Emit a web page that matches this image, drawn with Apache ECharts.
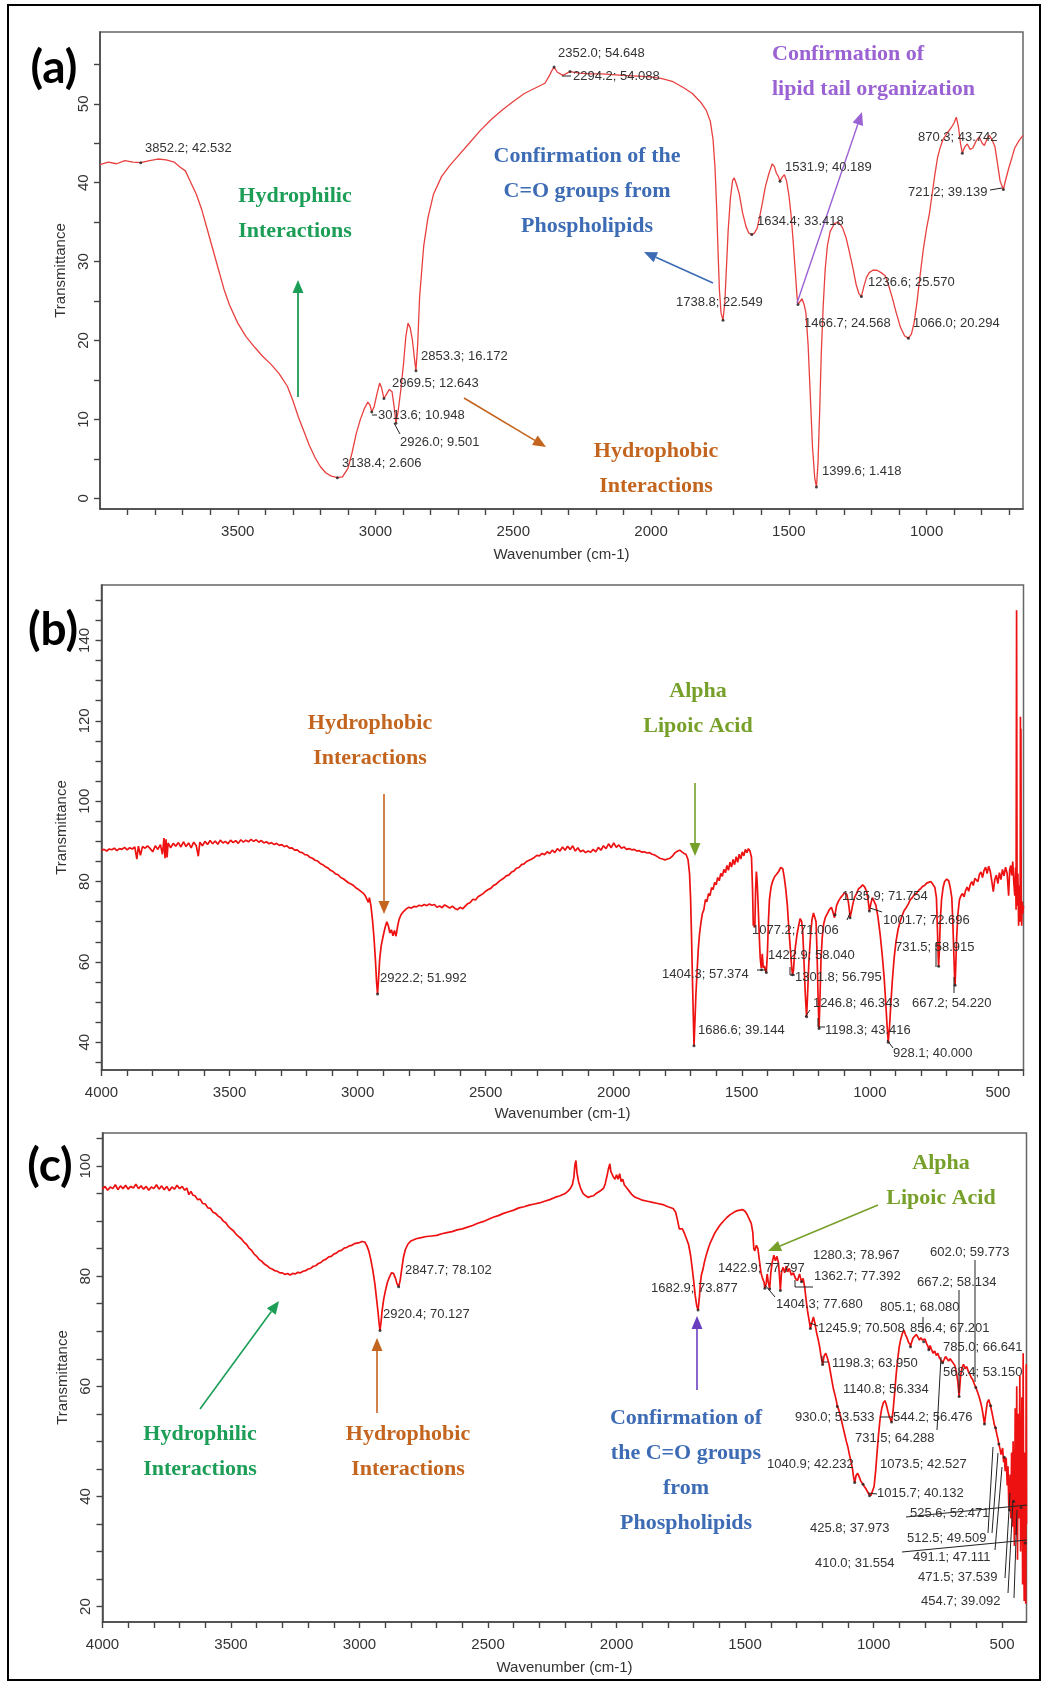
<!DOCTYPE html>
<html><head><meta charset="utf-8">
<script src="https://cdn.jsdelivr.net/npm/echarts@6/dist/echarts.min.js"></script>
<style>html,body{margin:0;padding:0;background:#fff;}#chart{width:1046px;height:1685px;}</style>
</head><body><div id="chart"></div>
<script>
// ---------------- DATA ----------------
// Panel (a): [wavenumber, transmittance]
const spectrumA = [
[4000,42.3],[3970,42.6],[3940,42.4],[3910,42.8],[3880,42.6],[3852.2,42.532],[3820,42.8],[3790,43.0],[3760,42.9],[3730,42.6],[3710,42.0],[3690,41.5],[3670,40.0],[3650,38.5],[3630,36.5],[3610,34.0],[3590,31.5],[3570,29.0],[3550,26.5],[3530,24.5],[3500,22.2],[3470,20.5],[3440,19.2],[3410,18.0],[3380,17.0],[3350,15.8],[3320,14.2],[3300,12.4],[3280,10.3],[3260,8.5],[3240,6.7],[3220,5.2],[3200,4.0],[3180,3.2],[3160,2.8],[3138.4,2.606],[3120,2.7],[3100,3.8],[3085,5.8],[3070,8.2],[3055,10.0],[3040,11.4],[3028,12.2],[3020,11.8],[3013.6,10.948],[3005,11.6],[2995,13.2],[2985,14.6],[2978,14.0],[2969.5,12.643],[2960,13.2],[2950,13.8],[2940,13.5],[2932,11.5],[2926.0,9.501],[2918,11.0],[2908,13.8],[2898,17.2],[2890,20.5],[2882,22.2],[2874,21.6],[2866,20.0],[2858,17.5],[2853.3,16.172],[2847,19.5],[2840,25.5],[2832,29.0],[2825,32.0],[2810,35.5],[2790,38.5],[2760,40.8],[2730,42.2],[2700,43.4],[2660,45.0],[2620,46.6],[2580,48.0],[2540,49.2],[2500,50.3],[2460,51.3],[2420,52.0],[2385,52.6],[2370,53.5],[2360,54.2],[2352.0,54.648],[2340,54.0],[2320,53.6],[2294.2,54.088],[2260,53.9],[2220,53.8],[2180,53.8],[2140,53.7],[2100,53.6],[2050,53.5],[2000,53.4],[1960,53.2],[1920,52.8],[1880,52.0],[1850,51.3],[1820,50.2],[1800,49.2],[1785,47.8],[1775,45.5],[1768,42.0],[1762,37.0],[1757,31.5],[1752,26.5],[1746,23.5],[1738.8,22.549],[1732,25.0],[1726,29.5],[1720,34.0],[1712,38.0],[1704,40.3],[1698,40.6],[1690,39.8],[1680,38.6],[1668,36.2],[1655,34.4],[1645,33.6],[1634.4,33.418],[1625,33.6],[1615,34.2],[1605,35.8],[1595,37.6],[1585,39.5],[1572,41.2],[1560,42.4],[1552,42.0],[1545,41.2],[1538,40.8],[1531.9,40.189],[1524,40.7],[1516,41.0],[1508,40.2],[1500,38.5],[1492,36.0],[1484,32.5],[1476,28.5],[1470,25.5],[1466.7,24.568],[1460,24.9],[1452,25.3],[1444,24.5],[1438,23.5],[1430,19.5],[1422,13.0],[1414,6.5],[1406,2.6],[1399.6,1.418],[1394,4.5],[1388,11.0],[1382,18.5],[1375,24.5],[1368,29.0],[1360,32.0],[1350,33.8],[1335,34.8],[1320,35.0],[1305,34.3],[1292,33.0],[1280,31.2],[1268,29.3],[1255,27.0],[1245,25.9],[1236.6,25.570],[1228,26.8],[1218,28.0],[1208,28.6],[1195,28.9],[1180,28.9],[1165,28.6],[1150,28.2],[1138,27.0],[1125,25.5],[1110,23.5],[1095,21.7],[1080,20.6],[1066.0,20.294],[1055,20.8],[1045,22.3],[1035,24.8],[1025,27.8],[1012,31.5],[1000,34.2],[990,36.0],[980,38.5],[970,41.0],[960,43.2],[950,44.5],[940,45.5],[925,46.3],[910,47.0],[900,47.6],[892,48.3],[884,47.0],[877,45.0],[870.3,43.742],[862,44.5],[852,44.9],[842,44.2],[832,44.4],[820,45.3],[809,45.8],[798,45.0],[790,44.7],[780,45.6],[772,46.0],[762,45.4],[752,44.6],[742,42.3],[733,40.2],[721.2,39.139],[712,40.5],[702,41.8],[690,43.2],[680,44.4],[665,45.3],[650,46.0]
];
const peaksA = [[3852.2,42.532],[3138.4,2.606],[3013.6,10.948],[2969.5,12.643],[2926.0,9.501],[2853.3,16.172],[2352.0,54.648],[2294.2,54.088],[1738.8,22.549],[1634.4,33.418],[1531.9,40.189],[1466.7,24.568],[1399.6,1.418],[1236.6,25.570],[1066.0,20.294],[870.3,43.742],[721.2,39.139]];

// Panel (b)
const spectrumB = [
[4000,87.8],[3990,88.0],[3980,87.6],[3970,88.1],[3960,87.9],[3950,88.3],[3940,87.7],[3930,88.2],[3920,88.0],[3910,88.5],[3900,87.9],[3890,88.4],[3880,88.1],[3870,88.6],[3862,85.6],[3856,88.8],[3848,86.5],[3840,88.7],[3830,88.3],[3820,88.9],[3810,88.2],[3800,87.4],[3790,88.9],[3780,88.0],[3770,89.2],[3762,86.8],[3756,90.8],[3752,85.8],[3748,90.5],[3744,86.0],[3740,89.6],[3730,88.4],[3720,89.5],[3710,88.8],[3700,89.7],[3690,88.6],[3680,89.9],[3670,88.7],[3660,89.6],[3650,88.4],[3640,89.8],[3630,88.9],[3622,86.3],[3616,89.8],[3606,88.9],[3596,90.0],[3586,89.2],[3576,90.2],[3566,89.4],[3556,90.1],[3546,89.3],[3536,90.3],[3526,89.6],[3516,90.0],[3506,89.4],[3496,90.3],[3486,89.7],[3476,90.2],[3466,89.5],[3456,90.4],[3446,89.8],[3436,90.3],[3426,89.9],[3416,90.5],[3406,90.0],[3396,90.4],[3386,89.8],[3376,90.2],[3366,89.6],[3356,89.9],[3346,89.4],[3336,89.7],[3326,89.2],[3316,89.5],[3306,89.0],[3296,89.2],[3286,88.7],[3276,88.9],[3266,88.3],[3256,88.4],[3246,87.8],[3236,87.9],[3226,87.3],[3216,87.2],[3206,86.7],[3196,86.6],[3186,86.0],[3176,85.8],[3166,85.3],[3156,85.1],[3146,84.5],[3136,84.2],[3126,83.7],[3116,83.4],[3106,82.8],[3096,82.5],[3086,81.9],[3076,81.7],[3066,81.0],[3056,80.7],[3046,80.2],[3036,79.7],[3026,79.4],[3016,79.0],[3006,78.4],[2996,78.0],[2986,77.5],[2976,77.0],[2968,76.2],[2962,76.6],[2958,74.8],[2954,76.0],[2948,74.0],[2942,70.5],[2936,66.0],[2930,60.0],[2926,55.0],[2922.2,51.992],[2918,56.0],[2914,60.5],[2908,64.0],[2900,66.5],[2893,68.5],[2886,70.0],[2880,69.0],[2874,67.2],[2868,68.0],[2862,66.5],[2856,67.8],[2850,66.4],[2844,68.8],[2838,70.6],[2830,71.8],[2820,72.6],[2810,73.2],[2800,73.6],[2790,73.4],[2780,73.8],[2770,73.7],[2760,74.1],[2750,73.9],[2740,74.3],[2730,74.0],[2720,74.4],[2710,74.1],[2700,74.3],[2690,73.6],[2680,73.9],[2670,73.5],[2660,74.2],[2650,73.8],[2640,73.4],[2630,73.9],[2620,73.3],[2610,73.0],[2600,73.6],[2590,73.2],[2580,73.9],[2570,74.5],[2560,74.8],[2550,75.6],[2540,75.4],[2530,76.2],[2520,76.6],[2510,77.0],[2500,77.6],[2490,78.0],[2480,78.3],[2470,79.0],[2460,79.3],[2450,79.9],[2440,80.4],[2430,80.8],[2420,81.4],[2410,81.6],[2400,82.3],[2390,82.6],[2380,83.3],[2370,83.5],[2360,84.2],[2350,84.4],[2340,85.0],[2330,85.3],[2320,85.6],[2310,86.0],[2300,86.5],[2290,86.4],[2280,87.0],[2270,86.7],[2260,87.4],[2250,87.0],[2240,87.8],[2230,87.2],[2220,88.2],[2210,87.6],[2200,88.6],[2190,87.8],[2180,88.8],[2170,88.0],[2160,88.9],[2150,87.6],[2140,88.4],[2130,87.4],[2120,87.8],[2110,87.2],[2100,87.6],[2090,87.3],[2080,88.0],[2070,87.4],[2060,88.5],[2050,87.8],[2040,88.9],[2030,88.2],[2020,89.4],[2010,88.4],[2000,89.6],[1990,88.5],[1980,89.1],[1970,88.3],[1960,88.6],[1950,88.0],[1940,88.2],[1930,87.9],[1920,88.0],[1910,87.6],[1900,87.7],[1890,87.3],[1880,87.4],[1870,87.1],[1860,87.2],[1850,86.8],[1840,86.6],[1830,86.2],[1820,85.8],[1810,85.6],[1800,85.4],[1790,85.6],[1780,85.8],[1770,86.4],[1760,87.2],[1750,87.6],[1742,87.8],[1734,87.4],[1726,87.0],[1718,86.8],[1710,85.5],[1704,82.0],[1700,76.0],[1696,66.0],[1692,54.0],[1688,43.0],[1686.6,39.144],[1683,45.0],[1679,52.0],[1675,57.0],[1670,63.0],[1665,67.0],[1660,69.5],[1654,72.0],[1648,73.0],[1642,75.5],[1636,75.0],[1630,77.0],[1624,76.5],[1618,78.5],[1612,78.0],[1606,79.8],[1600,79.2],[1594,81.0],[1588,80.2],[1582,82.0],[1576,81.3],[1570,83.0],[1564,82.2],[1558,84.0],[1552,82.8],[1546,84.8],[1540,83.6],[1534,85.5],[1528,84.2],[1522,86.2],[1516,84.8],[1510,86.8],[1504,85.6],[1498,87.4],[1492,86.4],[1486,88.0],[1480,87.2],[1474,88.2],[1468,87.6],[1462,86.0],[1458,78.0],[1455,69.0],[1452,70.0],[1449,68.5],[1446,78.0],[1443,82.5],[1440,80.0],[1436,74.0],[1432,67.0],[1428,61.0],[1424,58.5],[1420,62.0],[1416,58.5],[1412,59.0],[1408,58.0],[1404.3,57.374],[1400,62.0],[1396,70.0],[1392,75.5],[1386,78.5],[1380,80.0],[1372,81.2],[1364,81.8],[1356,82.5],[1348,83.5],[1340,83.2],[1334,81.0],[1328,78.0],[1322,74.0],[1316,68.0],[1310,63.0],[1305,58.5],[1301.8,56.795],[1298,58.0],[1294,62.0],[1290,64.0],[1284,67.0],[1278,69.0],[1272,70.8],[1266,70.0],[1262,67.5],[1257,60.0],[1252,52.0],[1248,47.5],[1246.8,46.343],[1243,52.0],[1238,60.0],[1232,66.0],[1226,70.5],[1220,72.2],[1214,72.6],[1210,70.0],[1206,62.0],[1202,51.0],[1198.3,43.416],[1195,50.0],[1191,60.0],[1186,66.0],[1180,69.5],[1174,71.0],[1166,72.0],[1158,73.0],[1150,73.6],[1144,72.4],[1138,71.0],[1135.9,71.754],[1130,74.0],[1122,75.2],[1114,76.0],[1106,76.6],[1098,77.2],[1090,76.8],[1084,75.0],[1080,73.0],[1077.2,71.006],[1072,72.5],[1066,74.5],[1060,76.0],[1052,77.0],[1044,78.2],[1036,78.6],[1028,79.2],[1020,78.6],[1012,77.5],[1006,75.0],[1001.7,72.696],[996,74.5],[990,76.0],[984,75.2],[976,74.0],[968,71.0],[960,67.0],[952,62.0],[944,56.0],[938,50.0],[933,44.5],[928.1,40.0],[923,44.0],[918,49.5],[912,55.5],[905,61.0],[898,65.0],[890,68.0],[882,70.0],[874,71.5],[866,72.8],[858,73.5],[850,74.4],[842,75.5],[834,76.0],[826,76.8],[818,77.0],[810,77.8],[802,78.2],[794,78.8],[786,79.0],[778,79.6],[770,79.8],[762,80.0],[754,79.3],[746,78.5],[740,76.0],[736,68.0],[733,61.0],[731.5,58.915],[729,62.0],[725,70.0],[720,75.5],[714,78.5],[708,80.0],[700,80.6],[692,80.2],[686,78.5],[680,76.0],[676,70.0],[672,62.0],[669,56.0],[667.2,54.22],[665,58.0],[661,66.0],[656,72.0],[650,75.5],[644,76.5],[638,77.0],[632,76.2],[626,77.8],[620,78.6],[614,77.6],[608,79.2],[602,80.0],[596,79.0],[590,80.8],[584,81.2],[578,80.0],[572,81.8],[566,82.4],[560,81.0],[554,82.8],[548,83.6],[542,82.0],[536,83.8],[530,82.6],[524,80.2],[518,77.5],[512,80.5],[506,81.6],[500,79.5],[494,82.2],[488,80.5],[482,83.0],[476,81.4],[470,83.6],[464,82.0],[458,76.5],[454,82.8],[450,84.0],[446,81.5],[442,85.0],[438,80.0],[434,76.5],[431,83.5],[429,73.0],[427,147.5],[425,74.0],[422,82.0],[419,69.0],[416,79.0],[413,70.0],[412,121.0],[411,72.0],[410,118.0],[409,76.0],[407,69.0],[405,75.0],[403,72.0],[400,74.0]
];
const peaksB = [[2922.2,51.992],[1686.6,39.144],[1404.3,57.374],[1077.2,71.006],[1422.9,58.040],[1301.8,56.795],[1246.8,46.343],[1198.3,43.416],[928.1,40.000],[1135.9,71.754],[1001.7,72.696],[731.5,58.915],[667.2,54.220]];

// Panel (c)
const spectrumC = [
[4000,95.8],[3990,96.3],[3980,95.6],[3970,96.2],[3960,95.9],[3950,96.6],[3940,95.7],[3930,96.4],[3920,95.9],[3910,96.5],[3900,95.8],[3890,96.3],[3880,96.0],[3870,96.7],[3860,95.9],[3850,96.4],[3840,95.8],[3830,96.3],[3820,95.6],[3810,96.2],[3800,95.9],[3790,96.6],[3780,95.8],[3770,96.4],[3760,95.7],[3750,96.3],[3740,95.5],[3730,96.2],[3720,95.8],[3710,96.5],[3700,95.9],[3690,96.3],[3680,95.6],[3672,96.0],[3664,94.8],[3656,95.4],[3648,94.7],[3640,94.6],[3630,93.9],[3620,94.0],[3610,93.2],[3600,93.1],[3590,92.4],[3580,92.3],[3570,91.6],[3560,91.4],[3550,90.9],[3540,90.6],[3530,90.0],[3520,89.7],[3510,89.0],[3500,88.6],[3490,88.2],[3480,87.6],[3470,87.2],[3460,86.8],[3450,86.2],[3440,85.8],[3430,85.1],[3420,84.7],[3410,84.0],[3400,83.6],[3390,83.0],[3380,82.7],[3370,82.2],[3360,81.9],[3350,81.5],[3340,81.3],[3330,81.0],[3320,80.9],[3310,80.6],[3300,80.6],[3290,80.3],[3280,80.5],[3270,80.2],[3260,80.5],[3250,80.4],[3240,80.7],[3230,80.6],[3220,80.9],[3210,81.0],[3200,81.3],[3190,81.4],[3180,81.8],[3170,81.9],[3160,82.3],[3150,82.5],[3140,82.9],[3130,83.1],[3120,83.5],[3110,83.6],[3100,84.0],[3090,84.2],[3080,84.6],[3070,84.7],[3060,85.1],[3050,85.2],[3040,85.5],[3030,85.6],[3020,85.9],[3010,86.0],[3000,86.1],[2990,86.3],[2980,86.2],[2972,85.6],[2964,84.6],[2956,83.0],[2948,81.0],[2940,78.5],[2934,76.0],[2928,73.5],[2924,71.5],[2920.4,70.127],[2916,71.8],[2912,73.8],[2906,75.8],[2900,77.2],[2892,78.8],[2884,79.8],[2876,80.6],[2868,80.5],[2860,79.6],[2854,78.6],[2847.7,78.102],[2842,79.2],[2836,81.2],[2830,83.2],[2822,84.8],[2812,85.8],[2800,86.4],[2780,86.8],[2760,87.0],[2740,87.2],[2720,87.3],[2700,87.4],[2680,87.7],[2660,87.9],[2640,88.1],[2620,88.4],[2600,88.6],[2580,88.9],[2560,89.2],[2540,89.6],[2520,89.9],[2500,90.3],[2480,90.7],[2460,91.0],[2440,91.4],[2420,91.7],[2400,92.0],[2380,92.4],[2360,92.6],[2340,92.9],[2320,93.1],[2300,93.3],[2280,93.6],[2260,93.9],[2240,94.3],[2220,94.6],[2200,95.0],[2190,95.4],[2180,95.9],[2172,96.6],[2166,98.0],[2162,100.2],[2158,101.0],[2154,98.8],[2148,97.2],[2140,96.0],[2130,95.0],[2120,94.6],[2110,94.3],[2100,94.5],[2090,94.6],[2080,95.0],[2070,95.3],[2060,95.6],[2050,96.0],[2044,96.8],[2038,98.0],[2032,99.4],[2026,100.4],[2022,99.0],[2018,98.6],[2012,98.0],[2006,97.6],[2000,98.4],[1994,97.6],[1988,98.6],[1982,97.2],[1976,97.6],[1970,96.6],[1960,96.0],[1950,95.4],[1940,94.8],[1930,94.4],[1920,94.2],[1910,94.0],[1900,93.8],[1880,93.6],[1860,93.4],[1840,93.2],[1820,93.0],[1800,92.6],[1780,92.3],[1770,91.6],[1762,90.0],[1756,88.6],[1750,88.3],[1744,88.6],[1736,87.8],[1728,86.8],[1720,85.8],[1712,83.8],[1706,81.6],[1700,79.2],[1694,76.5],[1688,74.6],[1682.9,73.877],[1678,76.0],[1674,78.6],[1670,80.2],[1664,81.2],[1658,82.6],[1650,84.0],[1642,85.2],[1634,86.2],[1626,87.0],[1618,87.8],[1610,88.4],[1600,89.1],[1590,89.7],[1580,90.2],[1570,90.7],[1560,91.1],[1550,91.4],[1540,91.7],[1530,91.9],[1520,92.0],[1510,92.1],[1500,91.8],[1492,91.2],[1484,90.4],[1476,89.6],[1470,88.0],[1466,85.0],[1462,84.6],[1456,85.6],[1450,85.0],[1444,82.8],[1438,80.6],[1432,79.6],[1426,78.9],[1422.9,77.797],[1418,78.6],[1414,80.4],[1410,79.0],[1404.3,77.680],[1400,80.5],[1394,82.6],[1388,83.8],[1382,82.8],[1376,83.6],[1370,82.4],[1366,80.0],[1362.7,77.392],[1358,80.8],[1352,81.6],[1346,80.6],[1340,81.8],[1334,80.8],[1328,81.4],[1320,80.2],[1312,80.6],[1304,79.6],[1296,79.2],[1288,80.4],[1280.3,78.967],[1274,79.6],[1268,78.0],[1262,75.5],[1256,73.4],[1250,71.8],[1245.9,70.508],[1240,71.6],[1234,72.6],[1228,71.4],[1222,69.8],[1216,68.6],[1210,67.2],[1204,65.4],[1198.3,63.950],[1192,65.6],[1186,66.0],[1180,65.2],[1174,64.2],[1168,62.6],[1162,61.0],[1156,59.5],[1150,58.4],[1145,57.4],[1140.8,56.334],[1136,55.8],[1130,54.8],[1124,53.6],[1118,52.4],[1112,51.2],[1106,50.0],[1100,49.0],[1094,47.6],[1088,46.4],[1082,45.0],[1078,43.6],[1073.5,42.527],[1068,43.8],[1062,44.2],[1056,43.6],[1050,42.8],[1044,42.6],[1040.9,42.232],[1036,41.8],[1030,41.4],[1024,40.9],[1018,40.4],[1015.7,40.132],[1010,40.2],[1004,40.4],[998,41.8],[992,44.6],[986,48.2],[980,51.6],[974,54.4],[968,56.0],[962,57.0],[956,57.4],[950,56.6],[944,55.4],[938,54.4],[930.0,53.533],[924,55.6],[918,58.8],[912,62.2],[906,65.0],[900,67.2],[894,68.6],[888,69.6],[882,70.2],[876,69.4],[870,68.8],[864,68.0],[858,67.6],[856.4,67.201],[852,68.0],[846,68.8],[840,68.6],[834,69.4],[828,69.0],[822,68.4],[816,68.8],[810,68.4],[805.1,68.08],[800,68.6],[794,67.8],[788,67.2],[785.0,66.641],[780,67.4],[774,66.6],[768,66.0],[762,66.4],[756,65.6],[750,66.0],[744,65.2],[738,64.8],[731.5,64.288],[726,64.8],[720,65.4],[714,65.0],[708,64.6],[702,65.0],[696,64.6],[690,64.8],[684,63.8],[678,62.6],[672,60.8],[667.2,58.134],[662,61.6],[656,63.4],[650,64.0],[644,63.2],[638,63.6],[632,62.8],[626,62.2],[620,61.6],[614,61.2],[608,60.4],[602.0,59.773],[596,59.0],[590,58.2],[584,57.2],[578,56.0],[572,54.2],[568.4,53.15],[564,54.8],[558,57.0],[552,57.6],[547,56.8],[544.2,56.476],[540,55.4],[534,54.0],[530,53.0],[525.6,52.471],[520,51.2],[516,50.4],[512.5,49.509],[508,48.6],[504,47.6],[498,48.8],[494,46.2],[491.1,47.111],[488,44.6],[484,47.0],[480,42.0],[477,45.5],[474,38.5],[471.5,37.539],[469,44.0],[466,36.0],[463,48.0],[460,34.5],[457,50.0],[454.7,39.092],[452,31.0],[449,56.0],[446,33.0],[443,60.0],[440,28.5],[437,55.0],[434,36.0],[431,62.0],[428,30.0],[425.8,37.973],[423,58.0],[420,24.0],[418,66.0],[416,35.0],[414,21.0],[412,48.0],[410.0,31.554],[408,20.5],[406,64.0],[405,35.0]
];
const peaksC = [[2847.7,78.102],[2920.4,70.127],[1682.9,73.877],[1422.9,77.797],[1280.3,78.967],[1362.7,77.392],[1404.3,77.680],[1245.9,70.508],[1198.3,63.950],[1140.8,56.334],[930.0,53.533],[544.2,56.476],[731.5,64.288],[1040.9,42.232],[1073.5,42.527],[1015.7,40.132],[525.6,52.471],[425.8,37.973],[512.5,49.509],[491.1,47.111],[410.0,31.554],[471.5,37.539],[454.7,39.092],[602.0,59.773],[667.2,58.134],[805.1,68.080],[856.4,67.201],[785.0,66.641],[568.4,53.150]];

// Tick labels / tick marks
const xLabelsA = [1000,1500,2000,2500,3000,3500];
const xLabelsBC = [500,1000,1500,2000,2500,3000,3500,4000];
const yLabelsA = [0,10,20,30,40,50];
const yLabelsB = [40,60,80,100,120,140];
const yLabelsC = [20,40,60,80,100];
const xTicksA = [700,800,900,1000,1100,1200,1300,1400,1500,1600,1700,1800,1900,2000,2100,2200,2300,2400,2500,2600,2700,2800,2900,3000,3100,3200,3300,3400,3500,3600,3700,3800,3900];
const xTicksB = [400,500,600,700,800,900,1000,1100,1200,1300,1400,1500,1600,1700,1800,1900,2000,2100,2200,2300,2400,2500,2600,2700,2800,2900,3000,3100,3200,3300,3400,3500,3600,3700,3800,3900,4000];
const xTicksC = [500,600,700,800,900,1000,1100,1200,1300,1400,1500,1600,1700,1800,1900,2000,2100,2200,2300,2400,2500,2600,2700,2800,2900,3000,3100,3200,3300,3400,3500,3600,3700,3800,3900,4000];
const yTicksA = [0,5,10,15,20,25,30,35,40,45,50,55];
const yTicksB = [35,40,45,50,55,60,65,70,75,80,85,90,95,100,105,110,115,120,125,130,135,140,145,150];
const yTicksC = [20,25,30,35,40,45,50,55,60,65,70,75,80,85,90,95,100,105];

const panelLabels = ['(a)','(b)','(c)'];
const xName = 'Wavenumber (cm-1)';
const yName = 'Transmittance';

// ---------------- LAYOUT (pixels) ----------------
const labelPosA = [[145,148],[342,463],[378,415],[392,383],[400,442],[421,356],[558,53],[573,76],[676,302],[757,221],[785,167],[804,323],[822,471],[868,282],[913,323],[918,137],[908,192]];
const labelPosB = [[380,978],[698,1030],[662,974],[752,930],[768,955],[795,977],[813,1003],[825,1030],[893,1053],[842,896],[883,920],[895,947],[912,1003]];
const labelPosC = [[405,1270],[383,1314],[651,1288],[718,1268],[813,1255],[814,1276],[776,1304],[818,1328],[832,1363],[843,1389],[795,1417],[893,1417],[855,1438],[767,1464],[880,1464],[877,1493],[910,1513],[810,1528],[907,1538],[913,1557],[815,1563],[918,1577],[921,1601],[930,1252],[917,1282],[880,1307],[910,1328],[943,1347],[943,1372]];

const chart = echarts.init(document.getElementById('chart'), null, {renderer:'canvas'});

const SANS = '"Liberation Sans", Arial, sans-serif';
const SERIF = '"Liberation Serif", "Times New Roman", serif';
const AX = '#444';
const plain = v => String(v);

function xAxis(gi, min, max, labels, ticks, gap) {
  return {type:'value', gridIndex:gi, min, max, inverse:true,
    name:xName, nameLocation:'middle', nameGap:gap,
    nameTextStyle:{fontFamily:SANS, fontSize:15, color:'#333'},
    axisLine:{show:true, onZero:false, lineStyle:{color:AX, width:1.5}},
    axisTick:{show:true, inside:false, length:6, customValues:ticks, lineStyle:{color:AX, width:1.4}},
    axisLabel:{show:true, customValues:labels, formatter:plain, margin:15, fontFamily:SANS, fontSize:15, color:'#333'},
    splitLine:{show:false}};
}
function yAxis(gi, min, max, labels, ticks, gap) {
  return {type:'value', gridIndex:gi, min, max,
    name:yName, nameLocation:'middle', nameGap:gap, nameRotate:90,
    nameTextStyle:{fontFamily:SANS, fontSize:15, color:'#333'},
    axisLine:{show:true, onZero:false, lineStyle:{color:AX, width:1.5}},
    axisTick:{show:true, length:6, customValues:ticks, lineStyle:{color:AX, width:1.4}},
    axisLabel:{show:true, customValues:labels, formatter:plain, rotate:90, margin:9, fontFamily:SANS, fontSize:15, color:'#333'},
    splitLine:{show:false}};
}
function lineSeries(gi, data, color, width) {
  return {type:'line', xAxisIndex:gi, yAxisIndex:gi, data, showSymbol:false, symbol:'none',
    lineStyle:{color, width}, animation:false, silent:true, z:2};
}
function markSeries(gi, data) {
  return {type:'scatter', xAxisIndex:gi, yAxisIndex:gi, data, symbol:'circle', symbolSize:3,
    itemStyle:{color:'#222'}, animation:false, silent:true, z:3};
}

const g = [];
function txt(x, y, text, font, fill, align) {
  g.push({type:'text', silent:true, z:50, style:{x, y, text, font, fill,
    align: align||'left', textAlign: align||'left', verticalAlign:'middle', textVerticalAlign:'middle', lineHeight:35}});
}
function seg(x1,y1,x2,y2,color,w) {
  g.push({type:'line', silent:true, z:49, shape:{x1,y1,x2,y2}, style:{stroke:color||'#222', lineWidth:w||1}});
}
function arrow(x1,y1,x2,y2,color,w) {
  const a = Math.atan2(y2-y1, x2-x1), L=13, W=5.5;
  const bx = x2 - L*Math.cos(a), by = y2 - L*Math.sin(a);
  const px = -Math.sin(a), py = Math.cos(a);
  g.push({type:'line', silent:true, z:49, shape:{x1,y1,x2:bx,y2:by}, style:{stroke:color, lineWidth:w||1.6}});
  g.push({type:'polygon', silent:true, z:49, shape:{points:[[x2,y2],[bx+px*W,by+py*W],[bx-px*W,by-py*W]]}, style:{fill:color}});
}
const fmt = p => p[0].toFixed(1) + '; ' + p[1].toFixed(3);
const PF = '13px ' + SANS;
peaksA.forEach((p,i) => txt(labelPosA[i][0], labelPosA[i][1], fmt(p), PF, '#333'));
peaksB.forEach((p,i) => txt(labelPosB[i][0], labelPosB[i][1], fmt(p), PF, '#333'));
peaksC.forEach((p,i) => txt(labelPosC[i][0], labelPosC[i][1], fmt(p), PF, '#333'));

// outer frame
g.push({type:'rect', silent:true, z:1, shape:{x:8,y:5,width:1032,height:1675}, style:{fill:'none', stroke:'#000', lineWidth:2}});
// panel labels
const PL = 'bold 46px Lato, "Open Sans", sans-serif';
txt(54, 68, panelLabels[0], PL, '#000', 'center');
txt(53, 630, panelLabels[1], PL, '#000', 'center');
txt(50, 1166, panelLabels[2], PL, '#000', 'center');

// colours
const GREEN='#1c9e57', BROWN='#c4651f', BLUE='#3d6cb5', PURPLE='#9a62d2', OLIVE='#77a02a';
const AF = 'bold 22px ' + SERIF;
// (a)
txt(295, 214, 'Hydrophilic\nInteractions', AF, GREEN, 'center');
arrow(298, 397, 298, 280, GREEN, 1.8);
txt(656, 469, 'Hydrophobic\nInteractions', AF, BROWN, 'center');
arrow(464, 398, 546, 447, BROWN, 1.6);
txt(587, 191, 'Confirmation of the\nC=O groups from\nPhospholipids', AF, BLUE, 'center');
arrow(713, 283, 644, 252, BLUE, 1.6);
txt(772, 72, 'Confirmation of\nlipid tail organization', AF, PURPLE, 'left');
arrow(797, 303, 862, 112, PURPLE, 1.4);
// (b)
txt(370, 741, 'Hydrophobic\nInteractions', AF, BROWN, 'center');
arrow(384, 794, 384, 914, BROWN, 1.6);
txt(698, 709, 'Alpha\nLipoic Acid', AF, OLIVE, 'center');
arrow(695, 783, 695, 856, OLIVE, 1.6);
// (c)
txt(200, 1452, 'Hydrophilic\nInteractions', AF, GREEN, 'center');
arrow(200, 1409, 279, 1301, GREEN, 1.6);
txt(408, 1452, 'Hydrophobic\nInteractions', AF, BROWN, 'center');
arrow(377, 1413, 377, 1338, BROWN, 1.6);
txt(941, 1181, 'Alpha\nLipoic Acid', AF, OLIVE, 'center');
arrow(878, 1205, 768, 1251, OLIVE, 1.6);
txt(686, 1471, 'Confirmation of\nthe C=O groups\nfrom\nPhospholipids', AF, BLUE, 'center');
arrow(697, 1390, 697, 1316, '#6a3fbf', 1.6);

// leader lines (a)
seg(562,76,571,76); seg(372,415,377,415); seg(394,423,400,434); seg(990,190,1002,188);
// leader lines (b)
seg(757,970,767,970); seg(790,967,790,975); seg(790,975,795,975); seg(818,1018,818,1027); seg(818,1027,825,1027);
seg(805,1017,810,1010); seg(887,1040,893,1048); seg(870,908,882,912); seg(847,920,850,913); seg(936,943,936,967); seg(954,977,954,993);
// leader lines (c)
seg(975,1260,975,1382); seg(959,1290,959,1393); seg(941,1357,937,1430); seg(923,1317,923,1333);
seg(906,1517,1027,1505); seg(902,1552,1027,1540);
seg(993,1447,988,1533); seg(998,1453,992,1533); seg(1002,1467,995,1550); seg(1010,1493,1005,1578); seg(1013,1500,1008,1593); seg(1017,1510,1014,1598);
seg(795,1280,795,1287); seg(795,1287,813,1287); seg(810,1323,818,1326); seg(822,1356,822,1362); seg(822,1362,828,1362);
seg(868,1493,877,1494); seg(880,1417,893,1417); seg(765,1285,775,1297);

const option = {
  animation:false,
  backgroundColor:'#fff',
  grid:[
    {left:100, top:32, width:923, height:477, show:true, borderColor:'#666', borderWidth:1.5},
    {left:101.5, top:585, width:922, height:485, show:true, borderColor:'#666', borderWidth:1.5},
    {left:102.5, top:1133, width:924, height:489, show:true, borderColor:'#666', borderWidth:1.5}
  ],
  xAxis:[
    xAxis(0, 650, 4000, xLabelsA, xTicksA, 38),
    xAxis(1, 400, 4000, xLabelsBC, xTicksB, 36),
    xAxis(2, 405, 4000, xLabelsBC, xTicksC, 38)
  ],
  yAxis:[
    yAxis(0, -1.36, 59.1, yLabelsA, yTicksA, 24),
    yAxis(1, 33.1, 153.8, yLabelsB, yTicksB, 22),
    yAxis(2, 17.2, 106.0, yLabelsC, yTicksC, 24)
  ],
  series:[
    lineSeries(0, spectrumA, '#e8403f', 1.3),
    markSeries(0, peaksA),
    lineSeries(1, spectrumB, '#ee1111', 1.7),
    markSeries(1, peaksB),
    lineSeries(2, spectrumC, '#ee1111', 1.7),
    markSeries(2, peaksC)
  ],
  graphic:{elements:g}
};
chart.setOption(option);
</script></body></html>
